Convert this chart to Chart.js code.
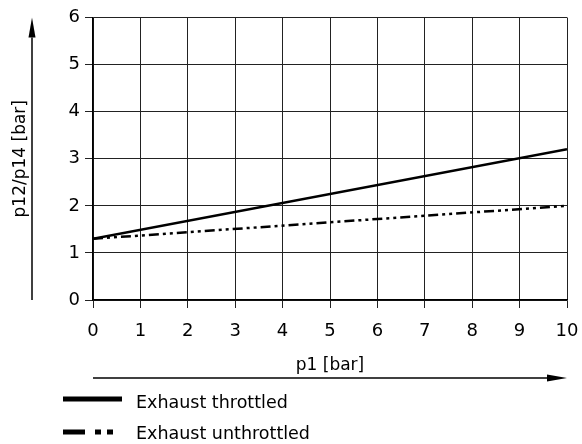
<!DOCTYPE html>
<html>
<head>
<meta charset="utf-8">
<script src="https://cdn.jsdelivr.net/npm/chart.js@4/dist/chart.umd.min.js"></script>
<style>
  html, body { margin: 0; padding: 0; background: #fff; }
  canvas { display: block; }
</style>
</head>
<body>
<canvas id="myChart" width="582" height="444"></canvas>
<script>
"use strict";

// values
const p1 = [0, 10];
const throttled = [1.3, 3.2];
const unthrottled = [1.3, 2.0];
const seriesLabels = ["Exhaust throttled", "Exhaust unthrottled"];
const xTitle = "p1 [bar]";
const yTitle = "p12/p14 [bar]";

const FONT = "'DejaVu Sans', sans-serif";

const points = function (ys) {
  return p1.map((x, i) => ({ x: x, y: ys[i] }));
};

const arrow = function (ctx, x1, y1, x2, y2) {
  const len = 20;
  const half = 3.5;
  const ang = Math.atan2(y2 - y1, x2 - x1);
  const bx = x2 - len * Math.cos(ang);
  const by = y2 - len * Math.sin(ang);
  ctx.beginPath();
  ctx.moveTo(x1, y1);
  ctx.lineTo(bx, by);
  ctx.stroke();
  ctx.beginPath();
  ctx.moveTo(x2, y2);
  ctx.lineTo(bx - half * Math.sin(ang), by + half * Math.cos(ang));
  ctx.lineTo(bx + half * Math.sin(ang), by - half * Math.cos(ang));
  ctx.closePath();
  ctx.fill();
};

const extras = {
  id: "extras",
  afterDraw(chart) {
    const { ctx, chartArea: a } = chart;
    ctx.save();
    ctx.strokeStyle = "#000";
    ctx.fillStyle = "#000";
    ctx.lineWidth = 1.5;
    arrow(ctx, 32, a.bottom, 32, a.top);
    arrow(ctx, a.left, 378, a.right, 378);

    // legend
    ctx.font = `17.5px ${FONT}`;
    ctx.textBaseline = "middle";
    ctx.textAlign = "left";
    ctx.lineWidth = 5;
    ctx.lineCap = "butt";

    ctx.beginPath();
    ctx.moveTo(63, 399);
    ctx.lineTo(122, 399);
    ctx.stroke();
    ctx.fillText(chart.data.datasets[0].label, 136, 403);

    ctx.setLineDash([22, 10, 6, 6, 6, 100]);
    ctx.beginPath();
    ctx.moveTo(63, 432);
    ctx.lineTo(113, 432);
    ctx.stroke();
    ctx.setLineDash([]);
    ctx.fillText(chart.data.datasets[1].label, 136, 434.5);
    ctx.restore();
  },
};

const grid = {
  color: "#222",
  lineWidth: 1,
  tickLength: 8,
  tickColor: "#222",
};

new Chart(document.getElementById("myChart"), {
  type: "line",
  data: {
    datasets: [
      {
        label: seriesLabels[0],
        data: points(throttled),
        borderColor: "#000",
        borderWidth: 2.5,
        pointRadius: 0,
      },
      {
        label: seriesLabels[1],
        data: points(unthrottled),
        borderColor: "#000",
        borderWidth: 2.5,
        borderDash: [10, 4, 3, 4, 3, 4],
        pointRadius: 0,
      },
    ],
  },
  options: {
    responsive: false,
    animation: false,
    layout: { padding: { left: 0, top: 17.5, right: 15, bottom: 56 } },
    plugins: {
      legend: { display: false },
      tooltip: { enabled: false },
    },
    scales: {
      x: {
        type: "linear",
        min: 0,
        max: 10,
        ticks: {
          stepSize: 1,
          color: "#000",
          padding: 13,
          maxRotation: 0,
          font: { family: FONT, size: 18 },
        },
        grid: grid,
        border: { color: "#000", width: 1.5 },
        title: {
          display: true,
          text: xTitle,
          color: "#000",
          font: { family: FONT, size: 17 },
          padding: { top: 0, bottom: 12 },
        },
        afterFit(scale) {
          scale.height = 88;
          scale.paddingLeft = 0;
          scale.paddingRight = 0;
        },
      },
      y: {
        min: 0,
        max: 6,
        ticks: {
          stepSize: 1,
          color: "#000",
          padding: 5,
          font: { family: FONT, size: 18 },
        },
        grid: grid,
        border: { color: "#000", width: 1.5 },
        title: {
          display: true,
          text: yTitle,
          color: "#000",
          font: { family: FONT, size: 17 },
          padding: { top: 10, bottom: 0 },
        },
        afterFit(scale) {
          scale.width = 93;
          scale.paddingTop = 0;
          scale.paddingBottom = 0;
        },
      },
    },
  },
  plugins: [extras],
});
</script>
</body>
</html>
